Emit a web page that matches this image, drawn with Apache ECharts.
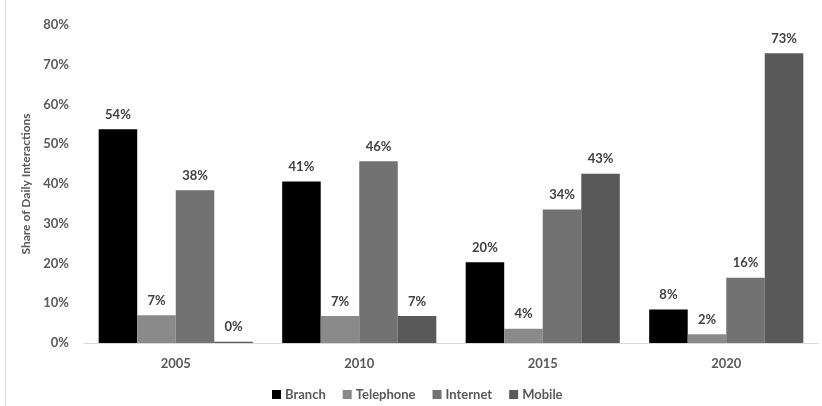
<!DOCTYPE html>
<html>
<head>
<meta charset="utf-8">
<script src="https://cdn.jsdelivr.net/npm/echarts@6/dist/echarts.min.js"></script>
<style>
  html, body { margin: 0; padding: 0; background: #fff; }
  #frame { position: absolute; left: 5px; top: 0; width: 817px; height: 406px; border-left: 1px solid #d9d9d9; }
  #chart { position: absolute; left: -5px; top: 0; width: 822px; height: 406px; }
</style>
</head>
<body>
<div id="frame"><div id="chart"></div></div>
<script>
// Share of daily banking interactions by channel
const years = ['2005', '2010', '2015', '2020'];
const branch = [53.8, 40.6, 20.3, 8.4];
const telephone = [7.0, 6.8, 3.6, 2.2];
const internet = [38.4, 45.7, 33.6, 16.4];
const mobile = [0.3, 6.8, 42.6, 72.9];
const yTicks = [0, 10, 20, 30, 40, 50, 60, 70, 80];

const font = 'Lato, "Open Sans", sans-serif';
const colors = ['#000000', '#8a8a8a', '#727272', '#595959'];

function bar(name, data, color) {
  return {
    name: name,
    type: 'bar',
    data: data,
    barGap: '0%',
    barCategoryGap: '16%',
    itemStyle: { color: color },
    label: {
      show: true,
      position: 'top',
      distance: 8,
      color: '#404040',
      fontFamily: font,
      fontWeight: 'bold',
      fontSize: 13,
      formatter: p => Math.round(p.value) + '%'
    }
  };
}

const chart = echarts.init(document.getElementById('chart'), null, { renderer: 'canvas' });
chart.setOption({
  animation: false,
  color: colors,
  grid: { left: 83, right: 5, top: 25, bottom: 63, containLabel: false },
  legend: {
    left: 266,
    top: 383,
    itemWidth: 9,
    itemHeight: 9,
    itemGap: 17,
    icon: 'rect',
    textStyle: { color: '#595959', fontFamily: font, fontWeight: 'bold', fontSize: 13, padding: [0, 0, 0, -1] },
    data: ['Branch', 'Telephone', 'Internet', 'Mobile']
  },
  xAxis: {
    type: 'category',
    data: years,
    axisLine: { lineStyle: { color: '#d9d9d9', width: 1 } },
    axisTick: { show: false },
    axisLabel: { color: '#595959', fontFamily: font, fontWeight: 'bold', fontSize: 13, margin: 14 }
  },
  yAxis: {
    type: 'value',
    min: yTicks[0],
    max: yTicks[yTicks.length - 1],
    interval: 10,
    name: 'Share of Daily Interactions',
    nameLocation: 'middle',
    nameGap: 45,
    nameTextStyle: { color: '#595959', fontFamily: font, fontWeight: 'bold', fontSize: 12 },
    axisLine: { show: false },
    axisTick: { show: false },
    splitLine: { show: false },
    axisLabel: {
      color: '#595959', fontFamily: font, fontWeight: 'bold', fontSize: 13, margin: 15,
      formatter: v => v + '%'
    }
  },
  series: [
    bar('Branch', branch, colors[0]),
    bar('Telephone', telephone, colors[1]),
    bar('Internet', internet, colors[2]),
    bar('Mobile', mobile, colors[3])
  ]
});
</script>
</body>
</html>
